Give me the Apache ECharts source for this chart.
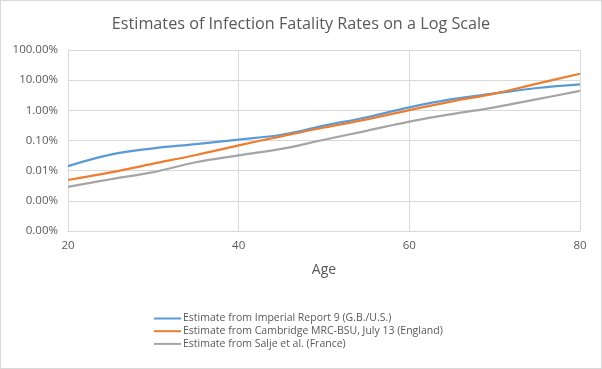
<!DOCTYPE html>
<html>
<head>
<meta charset="utf-8">
<script src="https://cdn.jsdelivr.net/npm/echarts@6/dist/echarts.min.js"></script>
<style>
html,body{margin:0;padding:0;background:#fff;}
#c{width:602px;height:369px;box-sizing:border-box;border:1px solid #d9d9d9;}
</style>
</head>
<body>
<div id="c"></div>
<script>
const ages = [20, 25, 30, 35, 40, 45, 50, 55, 60, 65, 70, 75, 80];
const imperial = [0.000141, 0.00034, 0.00055, 0.00076, 0.00107, 0.00155, 0.0031, 0.0059, 0.0126, 0.0234, 0.0362, 0.055, 0.073];
const cambridge = [0.000049, 0.000088, 0.00017, 0.00033, 0.00069, 0.00138, 0.0027, 0.0050, 0.0102, 0.0198, 0.036, 0.077, 0.163];
const salje = [0.000029, 0.000052, 0.00009, 0.00019, 0.00032, 0.00053, 0.00106, 0.0021, 0.0042, 0.0075, 0.0126, 0.0234, 0.044];
const seriesNames = [
  'Estimate from Imperial Report 9 (G.B./U.S.)',
  'Estimate from Cambridge MRC-BSU, July 13 (England)',
  'Estimate from Salje et al. (France)'
];
const yTicks = [0.000001, 0.00001, 0.0001, 0.001, 0.01, 0.1, 1];
const xTicks = [20, 40, 60, 80];
const titleText = 'Estimates of Infection Fatality Rates on a Log Scale';
const xAxisName = 'Age';

const colors = ['#5B9BD5', '#ED7D31', '#A5A5A5'];
const dataSets = [imperial, cambridge, salje];
const font = 'Open Sans, Liberation Sans, sans-serif';

const chart = echarts.init(document.getElementById('c'), null, {renderer: 'canvas'});
chart.setOption({
  animation: false,
  title: {
    text: titleText,
    left: 'center',
    top: 10,
    textStyle: {fontFamily: font, fontWeight: 'normal', fontSize: 16.2, color: '#595959'}
  },
  legend: {
    orient: 'vertical',
    left: 148,
    top: 307,
    itemWidth: 27,
    itemHeight: 10,
    itemGap: 1.7,
    icon: 'path://M0,4 L27,4 L27,6 L0,6 Z',
    textStyle: {fontFamily: font, fontSize: 10.5, color: '#595959', padding: [0, 0, 0, -3]},
    data: seriesNames
  },
  grid: {left: 67, right: 21, top: 49, bottom: 137, containLabel: false},
  xAxis: {
    type: 'value',
    min: xTicks[0],
    max: xTicks[xTicks.length - 1],
    interval: 20,
    name: xAxisName,
    nameLocation: 'middle',
    nameGap: 32,
    nameTextStyle: {fontFamily: font, fontSize: 14, color: '#595959'},
    axisLine: {show: true, lineStyle: {color: '#d9d9d9', width: 1}},
    axisTick: {show: false},
    axisLabel: {fontFamily: font, fontSize: 11.5, color: '#595959', margin: 9},
    splitLine: {show: true, lineStyle: {color: '#d9d9d9', width: 1}}
  },
  yAxis: {
    type: 'log',
    logBase: 10,
    min: yTicks[0],
    max: yTicks[yTicks.length - 1],
    axisLine: {show: true, lineStyle: {color: '#d9d9d9', width: 1}},
    axisTick: {show: false},
    axisLabel: {
      fontFamily: font, fontSize: 11.5, color: '#595959', margin: 10,
      formatter: v => (v * 100).toFixed(2) + '%'
    },
    splitLine: {show: true, lineStyle: {color: '#d9d9d9', width: 1}}
  },
  series: dataSets.map((d, i) => ({
    name: seriesNames[i],
    type: 'line',
    smooth: 0.4,
    showSymbol: false,
    symbol: 'none',
    lineStyle: {color: colors[i], width: 2.25},
    itemStyle: {color: colors[i]},
    data: ages.map((a, j) => [a, d[j]])
  }))
});
</script>
</body>
</html>
